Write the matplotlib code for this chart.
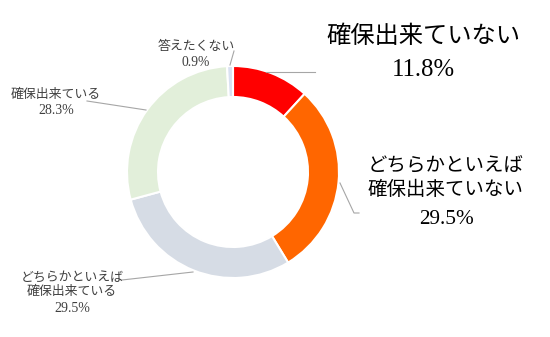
import matplotlib
matplotlib.use("Agg")
import matplotlib.pyplot as plt

# slices clockwise from 12 o'clock
labels = ["確保出来ていない", "どちらかといえば\n確保出来ていない", "どちらかといえば\n確保出来ている",
          "確保出来ている", "答えたくない"]
values = [11.8, 29.5, 29.5, 28.3, 0.9]
colors = ["#FF0000", "#FF6600", "#D6DCE5", "#E2EFDA", "#D9E1F2"]

W, H = 550, 337
FONT = ["Liberation Serif", "Noto Sans CJK JP"]


def py(y):
    # pixel row (from top) -> data y
    return H - y


fig = plt.figure(figsize=(5.5, 3.37), dpi=100)
ax = fig.add_axes([0, 0, 1, 1])

cx, cy, r = 233, 172, 106
ax.pie(values, colors=colors, startangle=90, counterclock=False,
       center=(cx, py(cy)), radius=r,
       wedgeprops=dict(width=31, edgecolor="white", linewidth=1.5))
ax.set_xlim(0, W)
ax.set_ylim(0, H)
ax.set_aspect("equal")
ax.axis("off")

# label placement: x, y of name block, y of percent, name size, percent size, color
label_pos = [
    (423, 37, 70, 17.5, 17.8, "black"),
    (446, 178, 219, 14, 15.3, "black"),
    (72, 284.5, 309, 9.3, 10, "#404040"),
    (56, 95, 111, 9.3, 10, "#404040"),
    (196, 47, 62, 9.3, 9.8, "#404040"),
]
for lab, v, (x, y, yp, fs, fp, c) in zip(labels, values, label_pos):
    ls = 1.45 if fs > 12 else 1.2
    ax.text(x, py(y), lab, ha="center", va="center", multialignment="center",
            fontsize=fs, color=c, family=FONT, linespacing=ls)
    ax.text(x, py(yp), f"{v:.1f}%", ha="center", va="center",
            fontsize=fp, color=c, family=FONT)

# leader lines
leaders = [
    [(266, 72), (315, 72)],
    [(340, 183), (354, 213), (359, 213)],
    [(193, 272), (122, 280)],
    [(146, 110), (87, 101)],
    [(230, 65), (234, 51)],
]
for pts in leaders:
    xs = [p[0] for p in pts]
    ys = [py(p[1]) for p in pts]
    ax.plot(xs, ys, color="#A6A6A6", lw=0.8)

fig.savefig("out.png", dpi=100)
